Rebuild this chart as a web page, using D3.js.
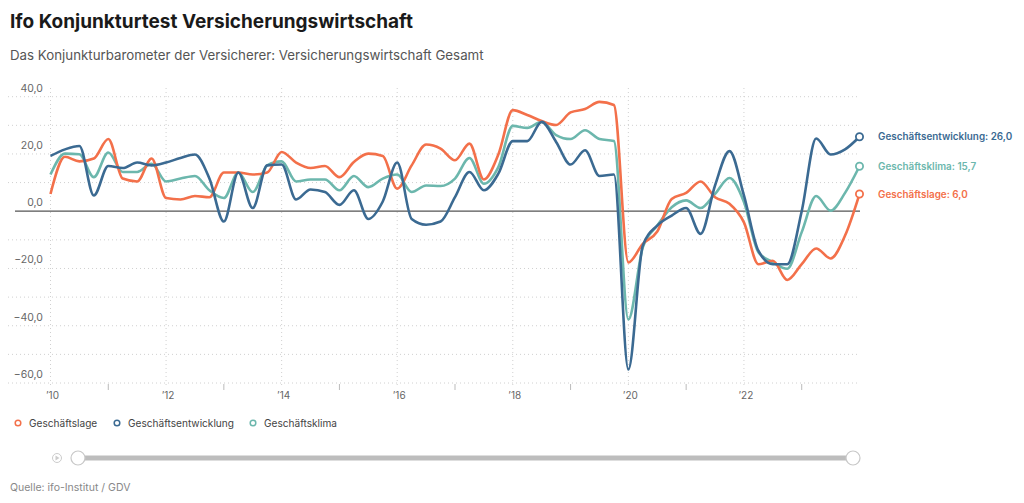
<!DOCTYPE html>
<html><head><meta charset="utf-8">
<script src="https://cdn.jsdelivr.net/npm/d3@7"></script>
<style>
body{margin:0;background:#fff;font-family:Inter,"Noto Sans",sans-serif;}
svg{display:block}
</style></head>
<body><svg id="c" width="1024" height="503"></svg>
<script>
const quarters = ["2010Q1","2010Q2","2010Q3","2010Q4","2011Q1","2011Q2","2011Q3","2011Q4",
"2012Q1","2012Q2","2012Q3","2012Q4","2013Q1","2013Q2","2013Q3","2013Q4",
"2014Q1","2014Q2","2014Q3","2014Q4","2015Q1","2015Q2","2015Q3","2015Q4",
"2016Q1","2016Q2","2016Q3","2016Q4","2017Q1","2017Q2","2017Q3","2017Q4",
"2018Q1","2018Q2","2018Q3","2018Q4","2019Q1","2019Q2","2019Q3","2019Q4",
"2020Q1","2020Q2","2020Q3","2020Q4","2021Q1","2021Q2","2021Q3","2021Q4",
"2022Q1","2022Q2","2022Q3","2022Q4","2023Q1","2023Q2","2023Q3","2023Q4","2024Q1"];

const geschaeftslage = [6.0,19.0,17.4,18.4,25.2,11.4,10.4,18.4,4.6,4.1,5.3,4.9,13.5,13.5,12.8,13.5,
20.7,17.0,15.1,15.8,11.9,17.2,20.1,19.3,7.9,16.0,23.3,21.9,17.8,23.6,11.1,19.8,
35.3,33.6,31.5,30.1,34.5,35.7,38.2,37.1,-17.9,-11.4,-7.1,4.3,6.4,10.4,4.9,2.6,
-3.9,-18.5,-17.3,-24.0,-18.5,-13.0,-16.5,-8.5,6.0];

const geschaeftsentwicklung = [19.3,21.6,22.8,5.5,15.8,15.1,17.0,16.0,17.0,18.6,19.8,11.4,-3.6,13.5,1.1,16.0,
16.3,4.1,7.6,6.7,2.2,7.3,-2.7,3.4,17.0,-2.7,-4.7,-3.6,4.9,13.7,7.3,13.1,
24.5,24.5,31.2,24.2,16.3,21.3,12.3,12.8,-55.3,-12.0,-5.0,-1.5,1.1,-7.9,9.0,21.0,
5.5,-13.8,-18.5,-18.5,0.0,25.4,19.8,21.6,26.0];

const geschaeftsklima = [12.8,20.1,19.9,11.9,20.5,13.7,13.7,16.6,10.4,11.4,12.3,7.3,4.6,13.5,6.7,16.0,
17.4,10.4,11.1,11.1,7.3,12.3,8.4,11.4,12.8,6.7,9.0,8.8,11.4,18.6,9.6,15.4,
29.8,29.1,31.2,26.6,25.2,28.3,25.2,24.5,-37.8,-12.6,-5.0,1.4,3.8,1.1,6.1,11.6,
3.2,-14.3,-17.8,-20.1,-7.3,5.3,0.2,6.4,15.7];

const seriesNames = ["Geschäftsentwicklung","Geschäftsklima","Geschäftslage"];
const legendOrder = ["Geschäftslage","Geschäftsentwicklung","Geschäftsklima"];
const yTicks = [40,20,0,-20,-40,-60];
const yGrid = [40,30,20,10,-10,-20,-30,-40,-50,-60];
const xMajor = [2010,2012,2014,2016,2018,2020,2022];
const xMinor = [2011,2013,2015,2017,2019,2021,2023];

const colors = {"Geschäftslage":"#f3704a","Geschäftsentwicklung":"#3b6a92","Geschäftsklima":"#6cb7ad"};
const values = {"Geschäftslage":geschaeftslage,"Geschäftsentwicklung":geschaeftsentwicklung,"Geschäftsklima":geschaeftsklima};

const qToYear = q => +q.slice(0,4) + (+q.slice(5)-1)/4;
const fmt = v => d3.format(".1f")(v).replace(".",",").replace("-","−");

const svg = d3.select("#c");
const x = d3.scaleLinear().domain([2010,2024]).range([50.5,859.5]);
const y = d3.scaleLinear().domain([-60,40]).range([383,96.7]);

// title
svg.append("text").attr("x",10).attr("y",28).attr("font-size",19).attr("font-weight",700)
  .attr("fill","#1a1a1a").text("Ifo Konjunkturtest Versicherungswirtschaft");
svg.append("text").attr("x",10).attr("y",60).attr("font-size",13.3).attr("fill","#555")
  .text("Das Konjunkturbarometer der Versicherer: Versicherungswirtschaft Gesamt");

// grid
const g = svg.append("g");
g.selectAll("line.hg").data(yGrid).join("line")
  .attr("x1",8).attr("x2",860).attr("y1",d=>y(d)).attr("y2",d=>y(d))
  .attr("stroke","#d0d0d0").attr("stroke-dasharray","1,3");
g.selectAll("line.vg").data(xMajor).join("line")
  .attr("x1",d=>x(d)).attr("x2",d=>x(d)).attr("y1",88).attr("y2",388)
  .attr("stroke","#d0d0d0").attr("stroke-dasharray","1,3");
g.selectAll("line.mt").data(xMinor).join("line")
  .attr("x1",d=>x(d)).attr("x2",d=>x(d)).attr("y1",384).attr("y2",390)
  .attr("stroke","#bbb");
g.selectAll("text.yl").data(yTicks).join("text")
  .attr("x",43).attr("y",d=>y(d)-5).attr("text-anchor","end").attr("font-size",10.5)
  .attr("fill","#666").text(d=>fmt(d));
g.selectAll("text.xl").data(xMajor).join("text")
  .attr("x",d=>x(d)+2).attr("y",399).attr("text-anchor","middle").attr("font-size",10)
  .attr("fill","#666").text(d=>"’"+String(d).slice(2));
g.append("line").attr("x1",15).attr("x2",860).attr("y1",y(0)).attr("y2",y(0))
  .attr("stroke","#555").attr("stroke-width",1.2);

// lines
const line = d3.line().x((d,i)=>x(qToYear(quarters[i]))).y(d=>y(d)).curve(d3.curveMonotoneX);
["Geschäftsklima","Geschäftslage","Geschäftsentwicklung"].forEach(n=>{
  svg.append("path").attr("d",line(values[n])).attr("fill","none")
    .attr("stroke",colors[n]).attr("stroke-width",2.6).attr("stroke-linejoin","round");
});
seriesNames.forEach(n=>{
  const v = values[n]; const last = v[v.length-1];
  const cx = x(qToYear(quarters[quarters.length-1])), cy = y(last);
  svg.append("circle").attr("cx",cx).attr("cy",cy).attr("r",3.6)
    .attr("fill","#fff").attr("stroke",colors[n]).attr("stroke-width",1.8);
  svg.append("text").attr("x",878).attr("y",cy).attr("dy","0.35em")
    .attr("font-size",9.9).attr("font-weight",600).attr("fill",colors[n])
    .text(n+": "+fmt(last));
});

// legend
const legX = [18,117,253];
legendOrder.forEach((n,i)=>{
  svg.append("circle").attr("cx",legX[i]).attr("cy",423).attr("r",2.8)
    .attr("fill","#fff").attr("stroke",colors[n]).attr("stroke-width",1.5);
  svg.append("text").attr("x",legX[i]+11).attr("y",423).attr("dy","0.35em")
    .attr("font-size",10.1).attr("fill","#444").text(n);
});

// slider
svg.append("circle").attr("cx",57).attr("cy",458).attr("r",4.5).attr("fill","none").attr("stroke","#ccc");
svg.append("path").attr("d","M55.5,455.5 L59.5,458 L55.5,460.5 Z").attr("fill","#ccc");
svg.append("line").attr("x1",78).attr("x2",853).attr("y1",458).attr("y2",458)
  .attr("stroke","#bdbdbd").attr("stroke-width",5);
[78,853].forEach(cx=>svg.append("circle").attr("cx",cx).attr("cy",458).attr("r",7)
  .attr("fill","#fff").attr("stroke","#c8c8c8").attr("stroke-width",1.2));

svg.append("text").attr("x",10).attr("y",491).attr("font-size",10.5).attr("fill","#888")
  .text("Quelle: ifo-Institut / GDV");
</script></body></html>
